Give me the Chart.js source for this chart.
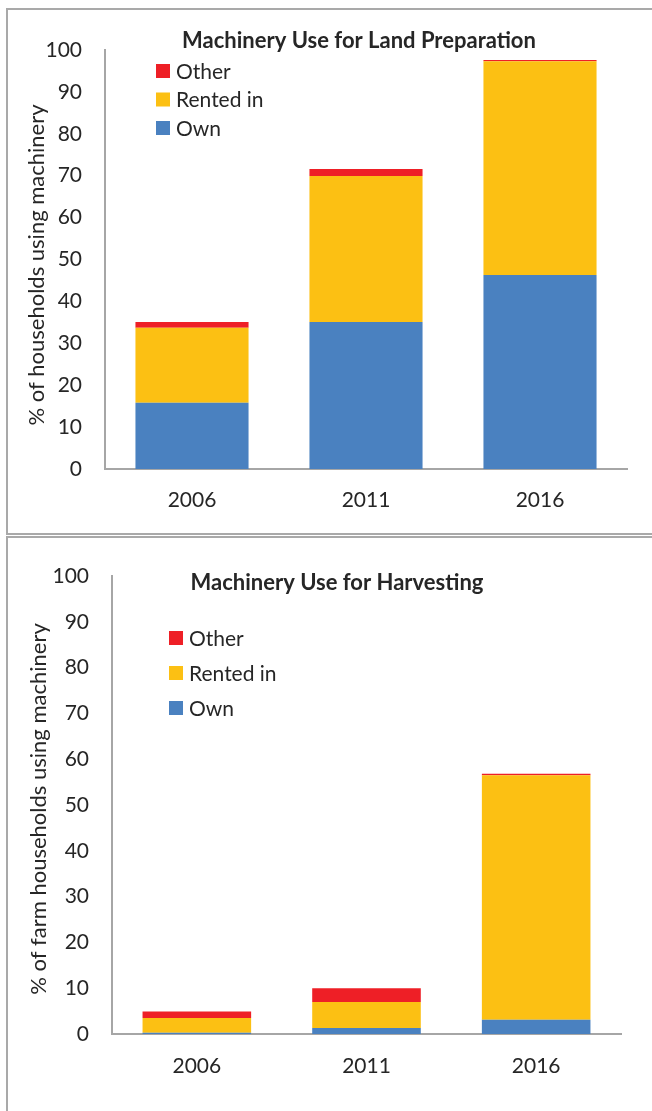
<!DOCTYPE html>
<html>
<head>
<meta charset="utf-8">
<script src="https://cdn.jsdelivr.net/npm/chart.js@4"></script>
<style>
  body { margin: 0; width: 652px; height: 1111px; overflow: hidden; background: #fff; position: relative; }
  .panel { position: absolute; left: 6px; width: 700px; border: 2px solid #a9a9a9; box-sizing: border-box; }
  canvas { position: absolute; left: 0; }
</style>
</head>
<body>
<div class="panel" style="top:8px;height:527px;"></div>
<div class="panel" style="top:536px;height:700px;"></div>
<canvas id="land-chart" style="top:0;"></canvas>
<canvas id="harvest-chart" style="top:537px;"></canvas>
<script>
// 연도
const years = ['2006', '2011', '2016'];
const yTicks = [0, 10, 20, 30, 40, 50, 60, 70, 80, 90, 100];

// 토지 준비 (%)
const landOwn = [15.8, 35.1, 46.3];
const landRented = [17.9, 34.8, 51.0];
const landOther = [1.4, 1.7, 0.3];

// 수확 (%)
const harvestOwn = [0.3, 1.3, 3.1];
const harvestRented = [3.2, 5.7, 53.4];
const harvestOther = [1.4, 3.0, 0.3];

const seriesNames = ['Own', 'Rented in', 'Other'];
const seriesColors = ['#4a81c0', '#fcc013', '#ee1f26'];

const FONT = 'Lato, "Open Sans", sans-serif';

// 제목, 범례, 축 제목 그리기
const panelText = {
    id: 'panelText',
    afterDraw(chart, args, opts) {
        const ctx = chart.ctx;
        ctx.save();
        ctx.fillStyle = '#262626';
        ctx.font = 'bold 22px ' + FONT;
        ctx.textAlign = 'center';
        ctx.textBaseline = 'middle';
        ctx.fillText(opts.title, opts.titleX, opts.titleY);

        // 범례 (역순)
        ctx.font = '21px ' + FONT;
        ctx.textAlign = 'left';
        const sets = chart.data.datasets.slice().reverse();
        sets.forEach((ds, i) => {
            const y = opts.legendY + i * opts.legendGap;
            ctx.fillStyle = ds.backgroundColor;
            ctx.fillRect(opts.legendX, y - 7, 14, 14);
            ctx.fillStyle = '#262626';
            ctx.fillText(ds.label, opts.legendX + 20, y + 1);
        });

        // y축 제목
        ctx.font = '22px ' + FONT;
        ctx.translate(opts.yTitleX, opts.yTitleY);
        ctx.rotate(-Math.PI / 2);
        ctx.textAlign = 'center';
        ctx.fillText(opts.yTitle, 0, 0);
        ctx.restore();
    }
};

function makeChart(id, w, h, own, rented, other, cfg) {
    const canvas = document.getElementById(id);
    canvas.width = w;
    canvas.height = h;
    canvas.style.width = w + 'px';
    canvas.style.height = h + 'px';
    const values = [own, rented, other];
    return new Chart(canvas.getContext('2d'), {
        type: 'bar',
        data: {
            labels: years,
            datasets: seriesNames.map((name, i) => ({
                label: name,
                data: values[i],
                backgroundColor: seriesColors[i],
                borderWidth: 0,
                barPercentage: 1,
                categoryPercentage: cfg.catPct
            }))
        },
        options: {
            responsive: false,
            animation: false,
            devicePixelRatio: 1,
            layout: { padding: { left: 0, right: cfg.padRight, top: cfg.padTop, bottom: 0 } },
            scales: {
                x: {
                    stacked: true,
                    grid: { display: false, drawTicks: false, tickLength: 0 },
                    border: { display: true, color: '#a6a6a6', width: 2 },
                    ticks: { color: '#262626', font: { family: FONT, size: 21 }, padding: cfg.xPad, maxRotation: 0 },
                    afterFit(scale) { scale.height = cfg.xHeight; }
                },
                y: {
                    stacked: true,
                    min: 0,
                    max: 100,
                    afterBuildTicks(scale) { scale.ticks = yTicks.map(v => ({ value: v })); },
                    grid: { display: false, drawTicks: false, tickLength: 0 },
                    border: { display: true, color: '#a6a6a6', width: 2 },
                    ticks: { color: '#262626', font: { family: FONT, size: 21 }, padding: cfg.yPad },
                    afterFit(scale) { scale.width = cfg.yWidth; }
                }
            },
            plugins: {
                legend: { display: false },
                title: { display: false },
                tooltip: { enabled: false },
                panelText: cfg.text
            }
        },
        plugins: [panelText]
    });
}

makeChart('land-chart', 652, 537, landOwn, landRented, landOther, {
    catPct: 0.65, padRight: 25, padTop: 50, xHeight: 68, xPad: 19, yWidth: 105, yPad: 23,
    text: {
        title: 'Machinery Use for Land Preparation', titleX: 359, titleY: 41,
        legendX: 156, legendY: 71, legendGap: 28.5,
        yTitle: '% of households using machinery', yTitleX: 37, yTitleY: 265
    }
});

makeChart('harvest-chart', 652, 574, harvestOwn, harvestRented, harvestOther, {
    catPct: 0.64, padRight: 31, padTop: 39, xHeight: 77, xPad: 20, yWidth: 112, yPad: 23,
    text: {
        title: 'Machinery Use for Harvesting', titleX: 337, titleY: 46,
        legendX: 169, legendY: 101, legendGap: 35,
        yTitle: '% of farm households using machinery', yTitleX: 39, yTitleY: 272
    }
});
</script>
</body>
</html>
